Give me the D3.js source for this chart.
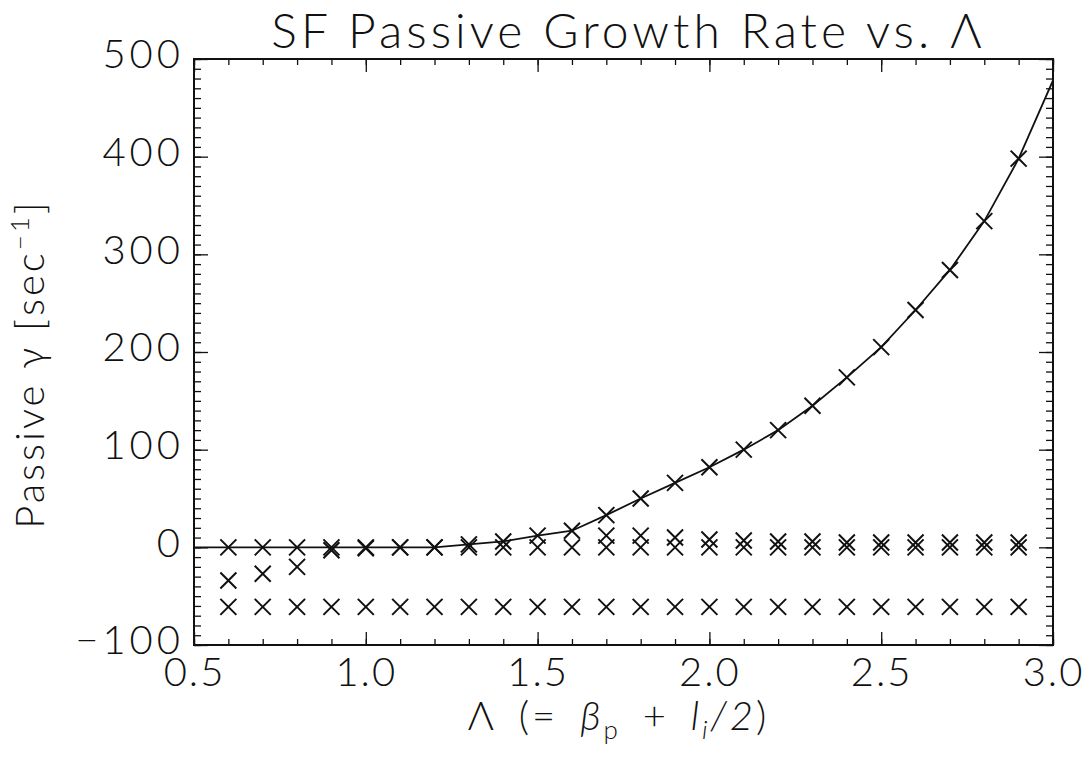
<!DOCTYPE html>
<html>
<head>
<meta charset="utf-8">
<script src="https://cdn.jsdelivr.net/npm/d3@7"></script>
<style>
  body { margin: 0; background: #fff; }
  text { font-family: "Lato", "Liberation Sans", sans-serif; font-weight: 300; fill: #111; }
</style>
</head>
<body>
<div id="chart"></div>
<script>
// Lambda values where the modes were computed
var lambdas = [0.6, 0.7, 0.8, 0.9, 1.0, 1.1, 1.2, 1.3, 1.4, 1.5, 1.6, 1.7,
               1.8, 1.9, 2.0, 2.1, 2.2, 2.3, 2.4, 2.5, 2.6, 2.7, 2.8, 2.9];

// most unstable mode (markers + line)
var unstable = [0, 0, 0, 0, 0, 0, 0, 3, 6, 12, 17, 33,
                50, 66, 82, 100, 120, 145, 174, 205, 243, 284, 334, 398];

// line runs across the whole axis
var lineLambda = [0.5].concat(lambdas, [3.0]);
var lineGamma = [0].concat(unstable, [478]);

// other modes near zero
var modeA = [-34, -27, -20, -3, -1, 0, 0, 0, 0, 0, 0, 0,
             0, 0, 0, 0, 0, 0, 0, 0, 0, 0, 0, 0];
var modeBLambda = [1.7, 1.8, 1.9, 2.0, 2.1, 2.2, 2.3, 2.4, 2.5, 2.6, 2.7, 2.8, 2.9];
var modeB = [12, 12, 10, 8, 7, 6, 6, 5, 5, 5, 5, 5, 5];

// stable mode
var modeC = [-61, -61, -61, -61, -61, -61, -61, -61, -61, -61, -61, -61,
             -61, -61, -61, -61, -61, -61, -61, -61, -61, -61, -61, -61];

var xTicks = [0.5, 1.0, 1.5, 2.0, 2.5, 3.0];
var yTicks = [-100, 0, 100, 200, 300, 400, 500];

var W = 1083, H = 762;
var mLeft = 194, mRight = 1053, mTop = 59, mBottom = 645;

var svg = d3.select("#chart").append("svg")
  .attr("width", W)
  .attr("height", H);

var x = d3.scaleLinear().domain([0.5, 3.0]).range([mLeft, mRight]);
var y = d3.scaleLinear().domain([-100, 500]).range([mBottom, mTop]);

// clip
svg.append("clipPath").attr("id", "clip")
  .append("rect")
  .attr("x", mLeft).attr("y", mTop)
  .attr("width", mRight - mLeft).attr("height", mBottom - mTop);

function fmtX(d) { return d3.format(".1f")(d); }

var xMinor = d3.range(5, 31).map(function (d) { return d / 10; });
var yMinor = d3.range(-100, 501, 10);

// ticks on every side, minor first then major
svg.append("g").attr("transform", "translate(0," + mBottom + ")")
  .call(d3.axisBottom(x).tickValues(xMinor).tickSize(-6).tickFormat(""));
var axBMaj = svg.append("g").attr("transform", "translate(0," + mBottom + ")")
  .call(d3.axisBottom(x).tickValues(xTicks).tickSize(-13).tickPadding(13).tickFormat(fmtX));
svg.append("g").attr("transform", "translate(0," + mTop + ")")
  .call(d3.axisTop(x).tickValues(xMinor).tickSize(-6).tickFormat(""));
svg.append("g").attr("transform", "translate(0," + mTop + ")")
  .call(d3.axisTop(x).tickValues(xTicks).tickSize(-13).tickFormat(""));
svg.append("g").attr("transform", "translate(" + mLeft + ",0)")
  .call(d3.axisLeft(y).tickValues(yMinor).tickSize(-7).tickFormat(""));
var axLMaj = svg.append("g").attr("transform", "translate(" + mLeft + ",0)")
  .call(d3.axisLeft(y).tickValues(yTicks).tickSize(-14).tickPadding(10)
    .tickFormat(function (d) { return d < 0 ? "\u2212" + Math.abs(d) : d; }));
svg.append("g").attr("transform", "translate(" + mRight + ",0)")
  .call(d3.axisRight(y).tickValues(yMinor).tickSize(-7).tickFormat(""));
svg.append("g").attr("transform", "translate(" + mRight + ",0)")
  .call(d3.axisRight(y).tickValues(yTicks).tickSize(-14).tickFormat(""));

svg.selectAll(".domain").remove();
svg.selectAll(".tick line").attr("stroke", "#111").attr("stroke-width", 1.3);

axBMaj.selectAll("text")
  .attr("font-size", 40)
  .attr("font-family", "Lato, Liberation Sans, sans-serif")
  .attr("font-weight", 300)
  .attr("letter-spacing", 2)
  .attr("fill", "#111");
axLMaj.selectAll("text")
  .attr("font-size", 40)
  .attr("font-family", "Lato, Liberation Sans, sans-serif")
  .attr("font-weight", 300)
  .attr("letter-spacing", 4)
  .attr("fill", "#111")
  .attr("dy", "0.22em");

// frame
svg.append("rect")
  .attr("x", mLeft).attr("y", mTop)
  .attr("width", mRight - mLeft).attr("height", mBottom - mTop)
  .attr("fill", "none")
  .attr("stroke", "#111")
  .attr("stroke-width", 2);

var plot = svg.append("g").attr("clip-path", "url(#clip)");

// curve
var line = d3.line()
  .x(function (d) { return x(d[0]); })
  .y(function (d) { return y(d[1]); });

plot.append("path")
  .datum(d3.zip(lineLambda, lineGamma))
  .attr("d", line)
  .attr("fill", "none")
  .attr("stroke", "#111")
  .attr("stroke-width", 1.8);

// X markers
var s = 8;
function crosses(pts) {
  var g = plot.append("g");
  pts.forEach(function (p) {
    var cx = x(p[0]), cy = y(p[1]);
    g.append("path")
      .attr("d", "M" + (cx - s) + "," + (cy - s) + "L" + (cx + s) + "," + (cy + s) +
                 "M" + (cx - s) + "," + (cy + s) + "L" + (cx + s) + "," + (cy - s))
      .attr("stroke", "#111")
      .attr("stroke-width", 2)
      .attr("fill", "none");
  });
}
crosses(d3.zip(lambdas, unstable));
crosses(d3.zip(lambdas, modeA));
crosses(d3.zip(modeBLambda, modeB));
crosses(d3.zip(lambdas, modeC));

// title
svg.append("text")
  .attr("x", (mLeft + mRight) / 2 + 5)
  .attr("y", 48)
  .attr("text-anchor", "middle")
  .attr("font-size", 48)
  .attr("letter-spacing", 4)
  .text("SF Passive Growth Rate vs. \u039B");

// y label
var yl = svg.append("text")
  .attr("transform", "translate(44," + ((mTop + mBottom) / 2 + 12) + ") rotate(-90)")
  .attr("text-anchor", "middle")
  .attr("font-size", 40)
  .attr("letter-spacing", 3);
yl.append("tspan").text("Passive \u03B3 [sec");
yl.append("tspan").attr("dy", -15).attr("font-size", 26).text("\u22121");
yl.append("tspan").attr("dy", 15).text("]");

// x label
var xl = svg.append("text")
  .attr("x", (mLeft + mRight) / 2 - 5)
  .attr("y", 730)
  .attr("text-anchor", "middle")
  .attr("font-size", 40)
  .attr("letter-spacing", 3)
  .attr("word-spacing", 8);
xl.append("tspan").text("\u039B (= ");
xl.append("tspan").attr("font-style", "italic").text("\u03B2");
xl.append("tspan").attr("dy", 9).attr("font-size", 26).text("p");
xl.append("tspan").attr("dy", -9).text(" + ");
xl.append("tspan").attr("font-style", "italic").text("l");
xl.append("tspan").attr("dy", 9).attr("font-size", 26).attr("font-style", "italic").text("i");
xl.append("tspan").attr("dy", -9).attr("font-style", "italic").text("/2");
xl.append("tspan").text(")");
</script>
</body>
</html>
